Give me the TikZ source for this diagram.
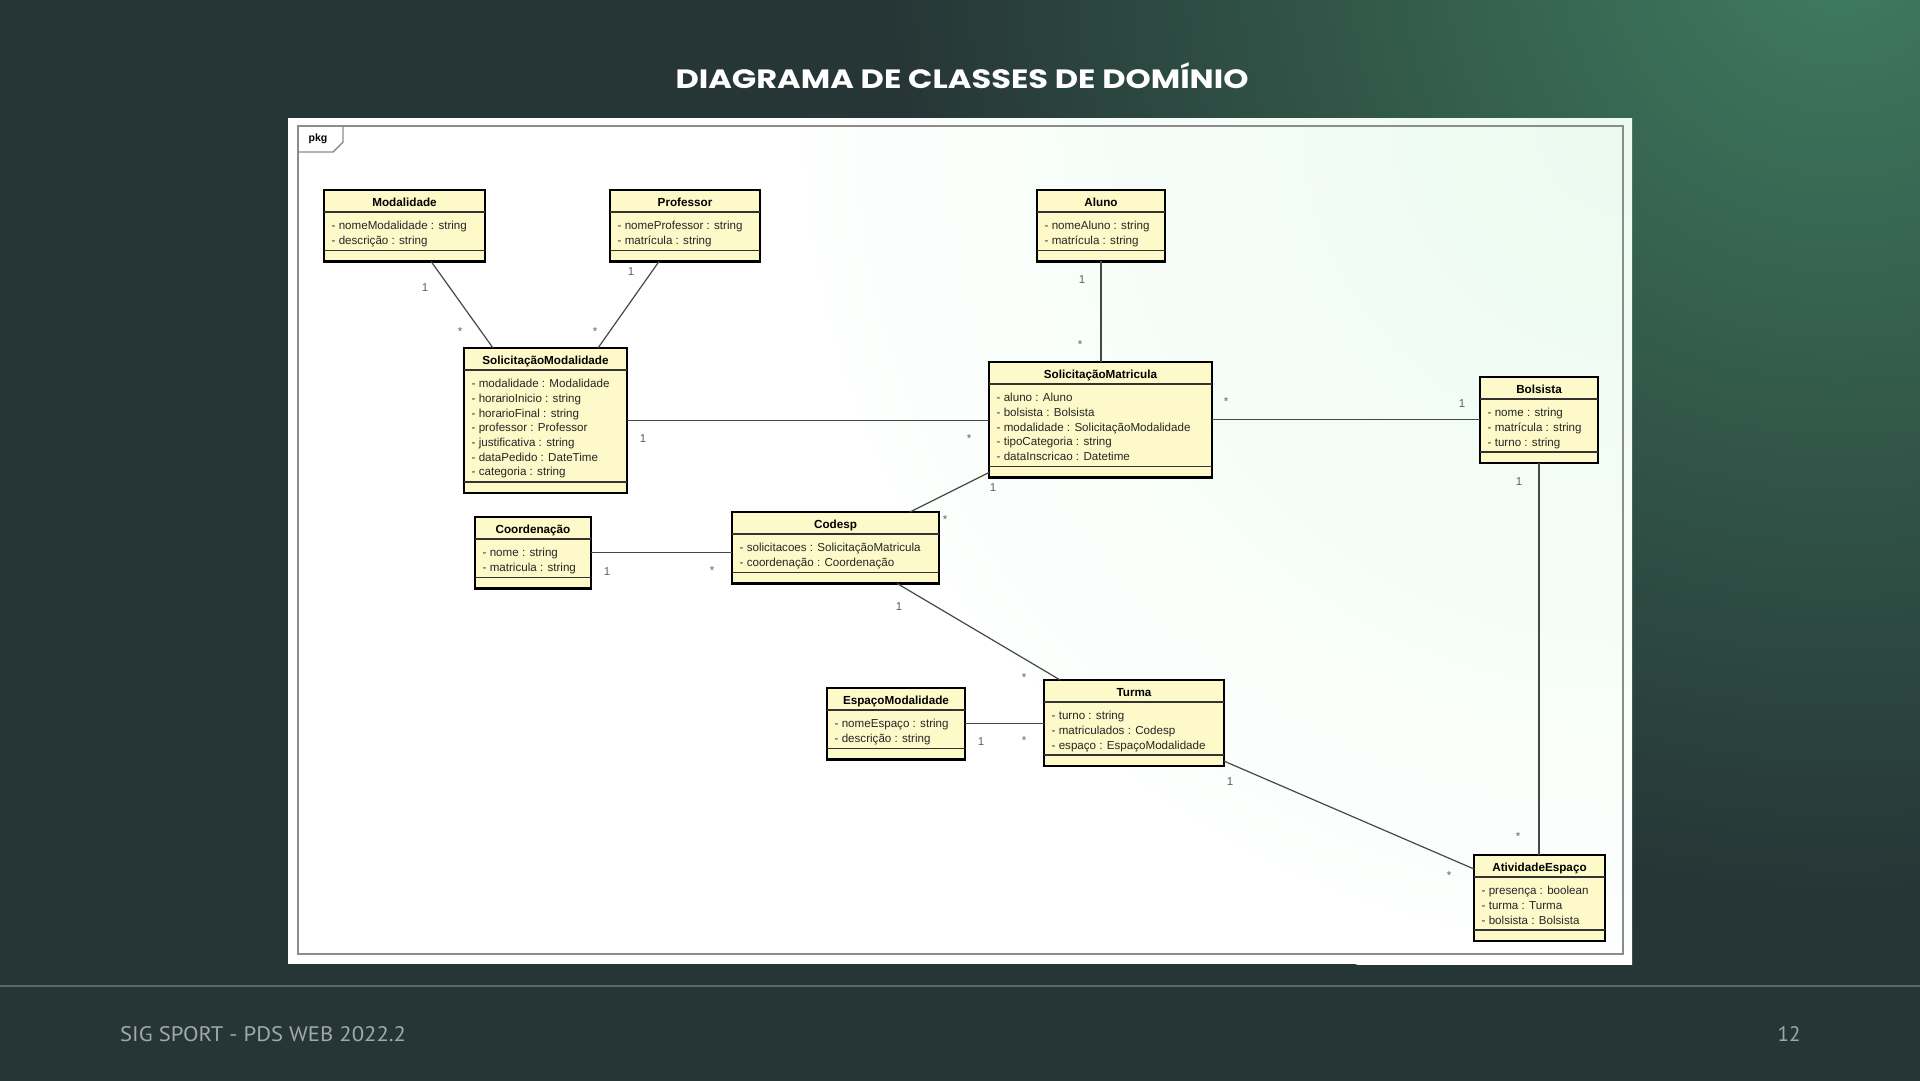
\documentclass[tikz,border=0pt]{standalone}
\usepackage{fontspec}
\setmainfont{Liberation Sans}
\newfontfamily\titlefont{Poppins}
\newfontfamily\footfont{PT Sans}
\usetikzlibrary{calc}
\definecolor{bgbase}{HTML}{263636}
\definecolor{bggreen}{HTML}{3F7C5F}
\definecolor{clsfill}{HTML}{FDF9C8}
\definecolor{mint}{HTML}{EAFBEF}
\definecolor{framegray}{HTML}{8C8C8C}
\definecolor{footline}{HTML}{596767}
\definecolor{foottext}{HTML}{A0AAAA}
\tikzset{
  clsbox/.style={draw=black, line width=2.2pt, fill=clsfill, inner sep=0pt, outer sep=0pt, rectangle},
  sepline/.style={draw=black!80, line width=1.4pt},
  clstitle/.style={font=\fontsize{11.7}{13}\selectfont\bfseries, inner sep=0pt, anchor=base},
  clsattr/.style={font=\fontsize{11.6}{14.7}\selectfont, align=left, inner sep=0pt, text=black!85, anchor=north west},
  assoc/.style={draw=black!72, line width=1.2pt},
  mult/.style={font=\fontsize{11.5}{13}\selectfont, text=black!62, inner sep=0pt},
}
% name, left x, top y, width, n attrs, title, attrs
\newcommand\umlcls[7]{%
  \pgfmathsetmacro\clsh{22+#5*14.7+20}%
  \node[clsbox, minimum width=#4pt, minimum height=\clsh pt, anchor=north west] (#1) at (#2,#3) {};
  \draw[sepline] ([yshift=-22pt]#1.north west) -- ([yshift=-22pt]#1.north east);
  \draw[sepline] ([yshift=11pt]#1.south west) -- ([yshift=11pt]#1.south east);
  \node[clstitle] (#1-t) at ([yshift=-16.5pt]#1.north) {#6};
  \node[clsattr] (#1-a) at ([xshift=7.5pt,yshift=-29.2pt]#1.north west) {\strut#7};
}
\begin{document}
\begin{tikzpicture}[x=1pt,y=-1pt]
\useasboundingbox (0,0) rectangle (1920,1080);
% slide background
\fill[bgbase] (-10,-10) rectangle (1930,1090);
\begin{scope}
  \clip (-10,-10) rectangle (1930,1090);
  \shade[inner color=bggreen, outer color=bgbase] (1840,-60) circle (950);
\end{scope}
\draw[footline, line width=1.5pt] (-5,986) -- (1925,986);
\node[font=\titlefont\bfseries\fontsize{26.5}{30}\selectfont, text=white, inner sep=0pt] (title) at (962,76) {\scalebox{1.21}[1]{DIAGRAMA DE CLASSES DE DOMÍNIO}};
\node[font=\footfont\fontsize{21}{24}\selectfont, text=foottext, inner sep=0pt, anchor=west] (foot) at (120,1034) {\scalebox{1.08}[1]{SIG SPORT - PDS WEB 2022.2}};
\node[font=\footfont\fontsize{21}{24}\selectfont, text=foottext, inner sep=0pt] (page) at (1789,1034) {12};
% diagram image
\fill[white] (288,118) rectangle (1632,964);
\begin{scope}
  \clip (288,118) rectangle (1632,964);
  \shade[inner color=mint, outer color=white] (1640,110) circle (900);
\end{scope}
\draw[framegray, line width=1.4pt] (298,126) rectangle (1623,954);
\draw[framegray, line width=1.4pt] (298,152) -- (333,152) -- (343,142) -- (343,126);
\node[font=\fontsize{10.5}{12}\selectfont\bfseries, inner sep=0pt] (pkg) at (318,139) {pkg};
% classes
\umlcls{mod}{324}{190}{161}{2}{Modalidade}{- nomeModalidade : string\\- descrição : string}
\umlcls{prof}{610}{190}{150}{2}{Professor}{- nomeProfessor : string\\- matrícula : string}
\umlcls{solmod}{464}{348}{163}{7}{SolicitaçãoModalidade}{- modalidade : Modalidade\\- horarioInicio : string\\- horarioFinal : string\\- professor : Professor\\- justificativa : string\\- dataPedido : DateTime\\- categoria : string}
\umlcls{aluno}{1037}{190}{128}{2}{Aluno}{- nomeAluno : string\\- matrícula : string}
\umlcls{solmat}{989}{362}{223}{5}{SolicitaçãoMatricula}{- aluno : Aluno\\- bolsista : Bolsista\\- modalidade : SolicitaçãoModalidade\\- tipoCategoria : string\\- dataInscricao : Datetime}
\umlcls{bolsista}{1480}{377}{118}{3}{Bolsista}{- nome : string\\- matrícula : string\\- turno : string}
\umlcls{coord}{475}{517}{116}{2}{Coordenação}{- nome : string\\- matricula : string}
\umlcls{codesp}{732}{512}{207}{2}{Codesp}{- solicitacoes : SolicitaçãoMatricula\\- coordenação : Coordenação}
\umlcls{esp}{827}{688}{138}{2}{EspaçoModalidade}{- nomeEspaço : string\\- descrição : string}
\umlcls{turma}{1044}{680}{180}{3}{Turma}{- turno : string\\- matriculados : Codesp\\- espaço : EspaçoModalidade}
\umlcls{ativ}{1474}{855}{131}{3}{AtividadeEspaço}{- presença : boolean\\- turma : Turma\\- bolsista : Bolsista}
% associations
\draw[assoc] ($(mod.south west)!0.665!(mod.south east)$) -- ($(solmod.north west)!0.178!(solmod.north east)$);
\draw[assoc] ($(prof.south west)!0.327!(prof.south east)$) -- ($(solmod.north west)!0.822!(solmod.north east)$);
\draw[assoc] (solmod.east) -- (solmod.east -| solmat.west);
\draw[assoc] (aluno.south) -- (aluno.south |- solmat.north);
\draw[assoc] (solmat.east) -- (solmat.east -| bolsista.west);
\draw[assoc] (coord.east) -- (coord.east -| codesp.west);
\draw[assoc] ($(codesp.north west)!0.86!(codesp.north east)$) -- ([yshift=5pt]solmat.south west);
\draw[assoc] ($(codesp.south west)!0.797!(codesp.south east)$) -- ($(turma.north west)!0.09!(turma.north east)$);
\draw[assoc] (esp.east) -- (esp.east -| turma.west);
\draw[assoc] ([yshift=5pt]turma.south east) -- ([yshift=-14pt]ativ.north west);
\draw[assoc] (bolsista.south) -- (bolsista.south |- ativ.north);
% multiplicities
\node[mult] (m1) at (425,288) {1};
\node[mult] (m2) at (460,332) {*};
\node[mult] (m3) at (631,272) {1};
\node[mult] (m4) at (595,332) {*};
\node[mult] (m5) at (643,439) {1};
\node[mult] (m6) at (969,439) {*};
\node[mult] (m7) at (1082,280) {1};
\node[mult] (m8) at (1080,345) {*};
\node[mult] (m9) at (1226,402) {*};
\node[mult] (m10) at (1462,404) {1};
\node[mult] (m11) at (993,488) {1};
\node[mult] (m12) at (945,520) {*};
\node[mult] (m13) at (607,572) {1};
\node[mult] (m14) at (712,571) {*};
\node[mult] (m15) at (899,607) {1};
\node[mult] (m16) at (1024,678) {*};
\node[mult] (m17) at (981,742) {1};
\node[mult] (m18) at (1024,741) {*};
\node[mult] (m19) at (1230,782) {1};
\node[mult] (m20) at (1449,876) {*};
\node[mult] (m21) at (1519,482) {1};
\node[mult] (m22) at (1518,837) {*};
\end{tikzpicture}
\end{document}
